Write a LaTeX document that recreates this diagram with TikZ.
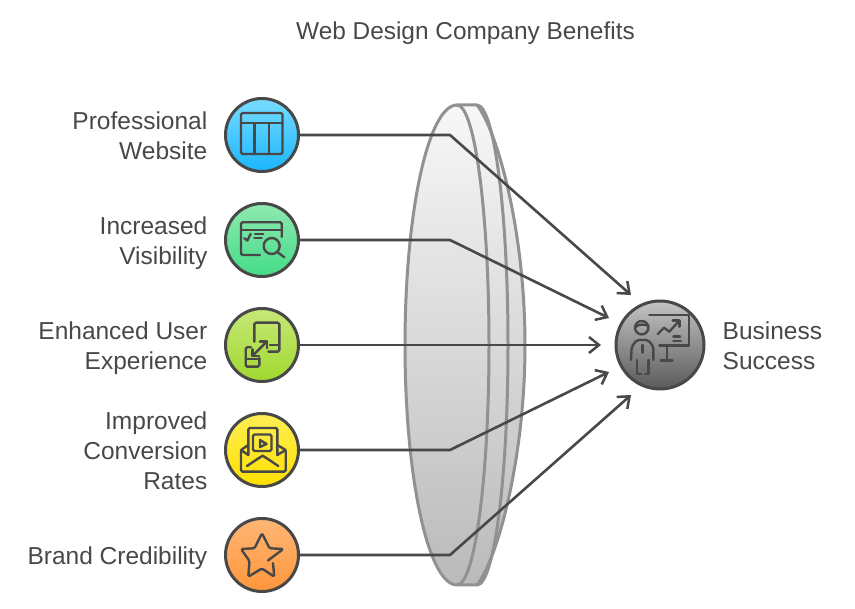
\documentclass[tikz,border=0pt]{standalone}
\usepackage{fontspec}
\setmainfont{Liberation Sans}
\usetikzlibrary{arrows.meta,positioning}
\definecolor{ink}{HTML}{484848}
\definecolor{rim}{HTML}{919191}

\begin{document}
\begin{tikzpicture}[x=1pt, y=-1pt, auto, node distance=105pt, >={Straight Barb[length=10pt,width=16pt,line width=2.5pt]}]
        \tikzset{
            hub/.style={circle, draw=ink, line width=3pt, minimum size=73pt, inner sep=0pt, shade},
            tag/.style={text=ink, font=\fontsize{24.5}{30}\selectfont, align=right, inner sep=0pt, left=16.5pt of #1, yshift=-3.5pt},
            link/.style={draw=ink, line width=2.6pt, line join=round},
            glyph/.style={draw=ink, line width=2.4pt, line join=round, line cap=round}
        }
        \useasboundingbox (0,0) rectangle (855,609);
        \node[text=ink, font=\fontsize{24.4}{30}\selectfont] (title) at (465.5,33) {Web Design Company Benefits};

        % lens
        \path[shade, top color=black!3, bottom color=black!27]
            (457,105) arc[start angle=-90, end angle=-270, x radius=52, y radius=240]
            -- (477,585) .. controls (497,560) and (525,460) .. (525,345) .. controls (525,230) and (497,130) .. (477,105) -- cycle;
        \draw[rim, line width=3pt, line join=round]
            (457,105) arc[start angle=-90, end angle=-270, x radius=52, y radius=240]
            -- (477,585) .. controls (497,560) and (525,460) .. (525,345) .. controls (525,230) and (497,130) .. (477,105) -- cycle;
        \draw[rim, line width=3pt] (457,105) arc[start angle=-90, end angle=90, x radius=32, y radius=240];
        \draw[rim, line width=3pt] (477,105) arc[start angle=-90, end angle=90, x radius=31, y radius=240];

        % circles on the left and their labels
        \node[hub, top color={rgb,255:red,120;green,220;blue,255}, bottom color={rgb,255:red,26;green,182;blue,255}] (web) at (262,135) {};
        \node[hub, top color={rgb,255:red,143;green,232;blue,176}, bottom color={rgb,255:red,68;green,221;blue,136}] (vis) [below of=web] {};
        \node[hub, top color={rgb,255:red,198;green,232;blue,120}, bottom color={rgb,255:red,160;green,217;blue,47}] (exp) [below of=vis] {};
        \node[hub, top color={rgb,255:red,255;green,238;blue,85}, bottom color={rgb,255:red,255;green,224;blue,0}] (conv) [below of=exp] {};
        \node[hub, top color={rgb,255:red,255;green,182;blue,118}, bottom color={rgb,255:red,255;green,150;blue,58}] (brand) [below of=conv] {};
        \node[hub, minimum size=88pt, top color={rgb,255:red,196;green,196;blue,196}, bottom color={rgb,255:red,90;green,90;blue,90}] (biz) at (660,345) {};

        \node[tag=web] (webtxt) {\strut Professional\\\strut Website};
        \node[tag=vis] (vistxt) {\strut Increased\\\strut Visibility};
        \node[tag=exp] (exptxt) {\strut Enhanced User\\\strut Experience};
        \node[tag=conv] (convtxt) {\strut Improved\\\strut Conversion\\\strut Rates};
        \node[tag=brand] (brandtxt) {\strut Brand Credibility};
        \node[text=ink, font=\fontsize{24.5}{30}\selectfont, align=left, inner sep=0pt, right=17pt of biz, yshift=-3.5pt] (biztxt) {\strut Business\\\strut Success};

        % bends and arrow ends
        \coordinate (b1) at (450,135);
        \coordinate (b2) at (450,240);
        \coordinate (b4) at (450,450);
        \coordinate (b5) at (450,555);
        \coordinate (e1) at (631,295);
        \coordinate (e2) at (609,318);
        \coordinate (e3) at (601,345);
        \coordinate (e4) at (609,372);
        \coordinate (e5) at (631,395);
        \draw[link, ->] (web) -- (b1) -- (e1);
        \draw[link, ->] (vis) -- (b2) -- (e2);
        \draw[link, ->] (exp) -- (e3);
        \draw[link, ->] (conv) -- (b4) -- (e4);
        \draw[link, ->] (brand) -- (b5) -- (e5);

        % table
        \begin{scope}[shift={(web.center)}]
            \draw[glyph, rounded corners=1.5pt] (-21,-22) rectangle (20.5,19);
            \draw[glyph] (-21,-12) -- (20.5,-12);
            \draw[glyph] (-7.5,-12) -- (-7.5,19);
            \draw[glyph] (7,-12) -- (7,19);
        \end{scope}
        % window with magnifier
        \begin{scope}[shift={(vis.center)}]
            \draw[glyph, rounded corners=1.5pt] (-2,15) -- (-21,15) -- (-21,-17.7) -- (19.7,-17.7) -- (19.7,-3);
            \draw[glyph] (-21,-10) -- (19.7,-10);
            \draw[glyph] (-17.7,-1.7) -- (-14.7,0.5) -- (-11.3,-6);
            \draw[glyph] (-7,-6) -- (1.3,-6);
            \draw[glyph] (-7.7,-1.7) -- (-0.3,-1.7);
            \draw[glyph] (9.7,6) circle[radius=8];
            \draw[glyph] (15.7,12.3) -- (22.3,17.3);
        \end{scope}
        % resize between two screens
        \begin{scope}[shift={(exp.center)}]
            \draw[glyph, rounded corners=1.5pt] (-7.7,-3.3) -- (-7.7,-22.3) -- (17.3,-22.3) -- (17.3,6.7) -- (6.3,6.7);
            \draw[glyph] (8,0) -- (16,0);
            \draw[glyph, rounded corners=1.5pt] (-11,2.3) -- (-16.3,2.3) -- (-16.3,21.7) -- (-2.7,21.7) -- (-2.7,13);
            \draw[glyph] (-16.3,14.3) -- (-2.7,14.3);
            \draw[glyph] (-9.7,11) -- (4.7,-3.3);
            \draw[glyph] (-2,-3.3) -- (4.7,-3.3) -- (4.7,3.3);
            \draw[glyph] (-9.7,4.3) -- (-9.7,11) -- (-3,11);
        \end{scope}
        % envelope with a video
        \begin{scope}[shift={(conv.center)}]
            \draw[glyph, rounded corners=1.5pt] (-13.7,5) -- (-13.7,-22) -- (15.3,-22) -- (15.3,5);
            \draw[glyph, rounded corners=1.5pt] (-9,-15.5) rectangle (9.5,1);
            \draw[glyph] (-2,-10) -- (4.5,-6) -- (-2,-3) -- cycle;
            \draw[glyph, rounded corners=1.5pt] (-13.7,-5) -- (-21,0) -- (-21,21.7) -- (23.7,21.7) -- (23.7,0) -- (15.3,-5);
            \draw[glyph] (-21,0) -- (-13.7,5);
            \draw[glyph] (23.7,0) -- (15.3,5);
            \draw[glyph] (-15,16) -- (-5,9.3) -- (0.7,5.7) -- (6.3,9.3) -- (16.3,16);
        \end{scope}
        % star with a gap
        \begin{scope}[shift={(brand.center)}]
            \draw[glyph, rounded corners=1.5pt] (6,5.5) -- (21.3,-6) -- (7.5,-6.7) -- (0,-21.7) -- (-7.5,-6.7) -- (-21,-6)
                -- (-12.5,6) -- (-13.7,21.7) -- (0,13.5) -- (12.3,21.7) -- (11,8);
        \end{scope}
        % person at a board
        \begin{scope}[shift={(biz.center)}]
            \draw[glyph] (-18.3,-17.3) circle[radius=6.7];
            \draw[glyph] (-24.5,-18) .. controls (-20,-22) and (-16,-20) .. (-11.7,-19.5);
            \draw[glyph, rounded corners=2pt] (-29,15) -- (-28.3,1.7) -- (-23.3,-5) -- (-11.7,-5) -- (-6.7,1.7) -- (-6.7,15);
            \draw[glyph] (-23.3,15) -- (-23.3,29) -- (-19,29);
            \draw[glyph] (-11.7,15) -- (-11.7,29) -- (-15,29);
            \draw[glyph] (-17.7,0) -- (-17.7,7.7);
            \draw[glyph] (-10.7,-30) -- (29,-30) -- (29,0.7) -- (-0.7,0.7);
            \draw[glyph] (6.7,0.7) -- (6.7,15.7);
            \draw[glyph] (0.7,15.7) -- (12.3,15.7);
            \draw[glyph] (-2.3,-11) -- (4,-17.3) -- (9.3,-13.3) -- (18.3,-23.3);
            \draw[glyph] (12.7,-24.3) -- (19.3,-24.3) -- (19.3,-18.3);
            \draw[glyph] (13.3,-8.3) -- (20,-8.3);
            \draw[glyph] (13.3,-4) -- (21,-4);
        \end{scope}
    \end{tikzpicture}
\end{document}
